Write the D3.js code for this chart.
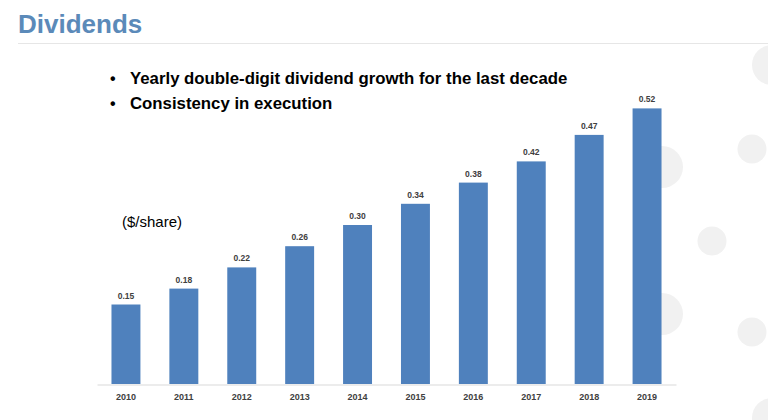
<!DOCTYPE html>
<html><head><meta charset="utf-8">
<script src="https://cdn.jsdelivr.net/npm/d3@7/dist/d3.min.js"></script>
<style>html,body{margin:0;padding:0;background:#fff;}svg{display:block;}</style>
</head><body>
<svg id="chart" width="768" height="420"></svg>
<script>
const years = ["2010","2011","2012","2013","2014","2015","2016","2017","2018","2019"];
const dividends = [0.15,0.18,0.22,0.26,0.30,0.34,0.38,0.42,0.47,0.52];
const valueLabels = ["0.15","0.18","0.22","0.26","0.30","0.34","0.38","0.42","0.47","0.52"];
const title = "Dividends";
const bullets = ["Yearly double-digit dividend growth for the last decade","Consistency in execution"];
const unitLabel = "($/share)";

const svg = d3.select("#chart");
const font = "'Liberation Sans', Arial, sans-serif";

// decorative circles
const deco = [[772,65,20],[752,149,14.5],[662,167,21],[712,241,14.5],[662,314,21],[752,332,14.5],[772,418,20]];
svg.append("g").selectAll("circle").data(deco).join("circle")
  .attr("cx",d=>d[0]).attr("cy",d=>d[1]).attr("r",d=>d[2]).attr("fill","#f1f1f1");

// title
svg.append("text").attr("x",18).attr("y",33).text(title)
  .attr("font-family",font).attr("font-weight","bold").attr("font-size",26).attr("fill","#5b8ab9");
svg.append("line").attr("x1",18).attr("x2",768).attr("y1",43.5).attr("y2",43.5)
  .attr("stroke","#e6e6e6").attr("stroke-width",1);

// bullets
const bg = svg.append("g");
bullets.forEach((b,i)=>{
  const y = 84 + i*25;
  bg.append("text").attr("x",110).attr("y",y).text("•")
    .attr("font-family",font).attr("font-weight","bold").attr("font-size",16).attr("fill","#000");
  bg.append("text").attr("x",130).attr("y",y).text(b)
    .attr("font-family",font).attr("font-weight","bold").attr("font-size",16.8).attr("fill","#000");
});

svg.append("text").attr("x",122).attr("y",227).text(unitLabel)
  .attr("font-family",font).attr("font-size",15).attr("fill","#000");

// scales
const x = d3.scaleBand().domain(years).range([97,676]).paddingInner(0.5).paddingOuter(0.25);
const y = d3.scaleLinear().domain([0,0.52]).range([384,108.4]);

// bars
svg.append("g").selectAll("rect").data(dividends).join("rect")
  .attr("x",(d,i)=>x(years[i])).attr("width",x.bandwidth())
  .attr("y",d=>y(d)).attr("height",d=>y(0)-y(d))
  .attr("fill","#4f81bd");

// value labels
svg.append("g").selectAll("text").data(dividends).join("text")
  .attr("x",(d,i)=>x(years[i])+x.bandwidth()/2).attr("y",d=>y(d)-6)
  .attr("text-anchor","middle").text((d,i)=>valueLabels[i])
  .attr("font-family",font).attr("font-weight","bold").attr("font-size",8.5).attr("fill","#404040");

// x axis
const xAxis = d3.axisBottom(x).tickSize(0).tickPadding(9);
const ag = svg.append("g").attr("transform","translate(0,384.5)").call(xAxis);
ag.select(".domain").attr("stroke","#d9d9d9").attr("stroke-width",1.2);
ag.selectAll("text").attr("font-family",font).attr("font-weight","bold").attr("font-size",9).attr("fill","#404040");
</script>
</body></html>
